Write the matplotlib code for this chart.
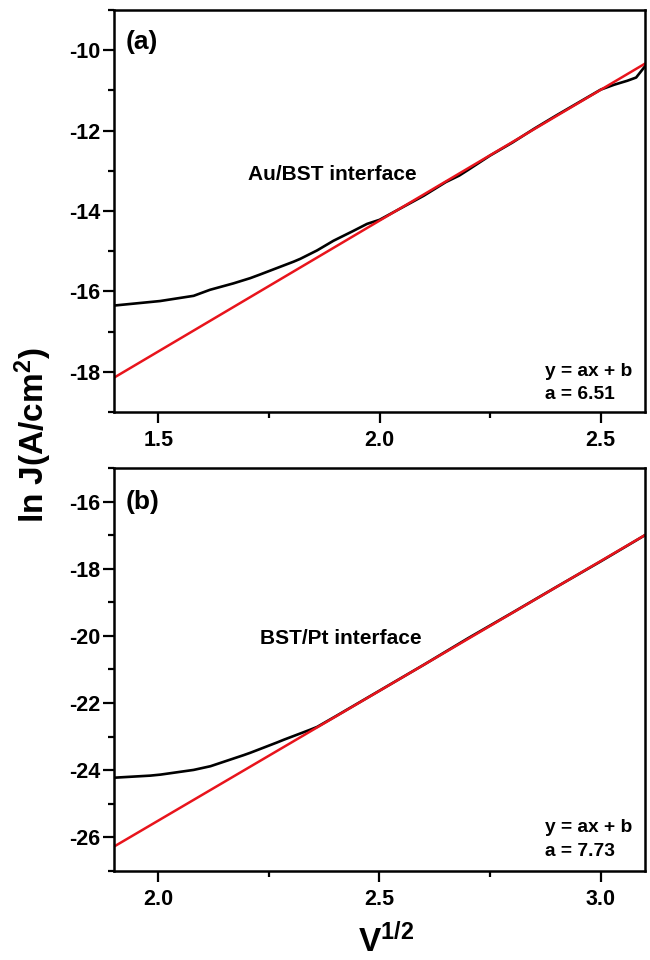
import numpy as np
import matplotlib
matplotlib.use("Agg")
import matplotlib.pyplot as plt
from matplotlib.ticker import MultipleLocator, FormatStrFormatter

plt.rcParams['font.family'] = ['Liberation Sans', 'DejaVu Sans']
plt.rcParams['font.weight'] = 'bold'
plt.rcParams['axes.unicode_minus'] = False
plt.rcParams['mathtext.fontset'] = 'custom'
plt.rcParams['mathtext.rm'] = 'Liberation Sans:bold'
plt.rcParams['mathtext.bf'] = 'Liberation Sans:bold'
plt.rcParams['mathtext.default'] = 'bf'

# ---- data: panel (a) Au/BST interface ----
xa = [1.402, 1.504, 1.58, 1.617, 1.67, 1.708, 1.73, 1.806, 1.821, 1.859, 1.896,
      1.94, 1.972, 2.0, 2.05, 2.1, 2.15, 2.18, 2.2, 2.25, 2.3, 2.35, 2.4, 2.45,
      2.5, 2.53, 2.56, 2.58, 2.6]
ya = [-16.35, -16.24, -16.11, -15.96, -15.80, -15.67, -15.58, -15.26, -15.19, -14.98, -14.74,
      -14.50, -14.32, -14.22, -13.92, -13.62, -13.28, -13.12, -12.98, -12.62, -12.30, -11.95, -11.62, -11.30,
      -10.98, -10.86, -10.76, -10.68, -10.40]
slope_a = 6.51
icpt_a = -27.26
xlim_a = [1.4, 2.6]

# ---- data: panel (b) BST/Pt interface ----
xb = [1.903, 1.982, 2.005, 2.08, 2.118, 2.193, 2.208, 2.269, 2.284, 2.344,
      2.359, 2.4, 2.5, 2.6, 2.7, 2.8, 2.9, 3.0, 3.1]
yb = [-24.22, -24.16, -24.13, -23.99, -23.88, -23.55, -23.48, -23.17, -23.09, -22.79,
      -22.71, -22.40, -21.63, -20.86, -20.07, -19.31, -18.54, -17.78, -17.00]
slope_b = 7.73
icpt_b = -40.96
xlim_b = [1.9, 3.1]

panels = [
    dict(x=xa, y=ya, a=slope_a, b=icpt_a, xlim=xlim_a, ylim=(-19, -9),
         tag='(a)', tag_y=42, label='Au/BST interface', fit='a = 6.51',
         rect=[114/650, 1-412/960, 531/650, 402/960], lab_xy=(248, 174),
         eq_y=(371, 395)),
    dict(x=xb, y=yb, a=slope_b, b=icpt_b, xlim=xlim_b, ylim=(-27, -15),
         tag='(b)', tag_y=502, label='BST/Pt interface', fit='a = 7.73',
         rect=[114/650, 1-871/960, 531/650, 403/960], lab_xy=(260, 638),
         eq_y=(828, 852)),
]

fig = plt.figure(figsize=(6.5, 9.6), dpi=100)
W, H = 650, 960

for p in panels:
    ax = fig.add_axes(p['rect'])
    ax.plot(p['x'], p['y'], color='black', lw=1.9, solid_capstyle='round')
    xf = np.array(p['xlim'])
    ax.plot(xf, p['a'] * xf + p['b'], color='#e8141c', lw=1.8)
    ax.set_xlim(*p['xlim'])
    ax.set_ylim(*p['ylim'])
    ax.xaxis.set_major_locator(MultipleLocator(0.5))
    ax.xaxis.set_minor_locator(MultipleLocator(0.25))
    ax.yaxis.set_major_locator(MultipleLocator(2))
    ax.yaxis.set_minor_locator(MultipleLocator(1))
    ax.xaxis.set_major_formatter(FormatStrFormatter('%.1f'))
    ax.yaxis.set_major_formatter(FormatStrFormatter('%d'))
    ax.tick_params(which='major', direction='out', length=8, width=1.6,
                   labelsize=15.5, top=False, right=False)
    ax.tick_params(which='minor', direction='out', length=4.5, width=1.6,
                   top=False, right=False)
    ax.tick_params(axis='x', which='major', pad=5)
    ax.tick_params(axis='y', which='major', pad=2)
    for lbl in ax.get_xticklabels() + ax.get_yticklabels():
        lbl.set_fontweight('bold')
    for s in ax.spines.values():
        s.set_linewidth(1.8)
    fig.text(126/W, 1 - p['tag_y']/H, p['tag'],
             fontsize=19, fontweight='bold', va='center', ha='left')
    fig.text(p['lab_xy'][0]/W, 1 - p['lab_xy'][1]/H, p['label'],
             fontsize=15, fontweight='bold', va='center', ha='left')
    fig.text(545/W, 1 - p['eq_y'][0]/H, 'y = ax + b',
             fontsize=13.8, fontweight='bold', va='center', ha='left')
    fig.text(545/W, 1 - p['eq_y'][1]/H, p['fit'],
             fontsize=13.8, fontweight='bold', va='center', ha='left')

fig.text(33/W, 1 - 435/H, r'ln J(A/cm$^{2}$)', rotation=90, fontsize=24,
         fontweight='bold', va='center', ha='center')
fig.text(386/W, 1 - 941/H, r'V$^{1/2}$', fontsize=24, fontweight='bold',
         va='center', ha='center')

fig.savefig('out.png', dpi=100, facecolor='white')
